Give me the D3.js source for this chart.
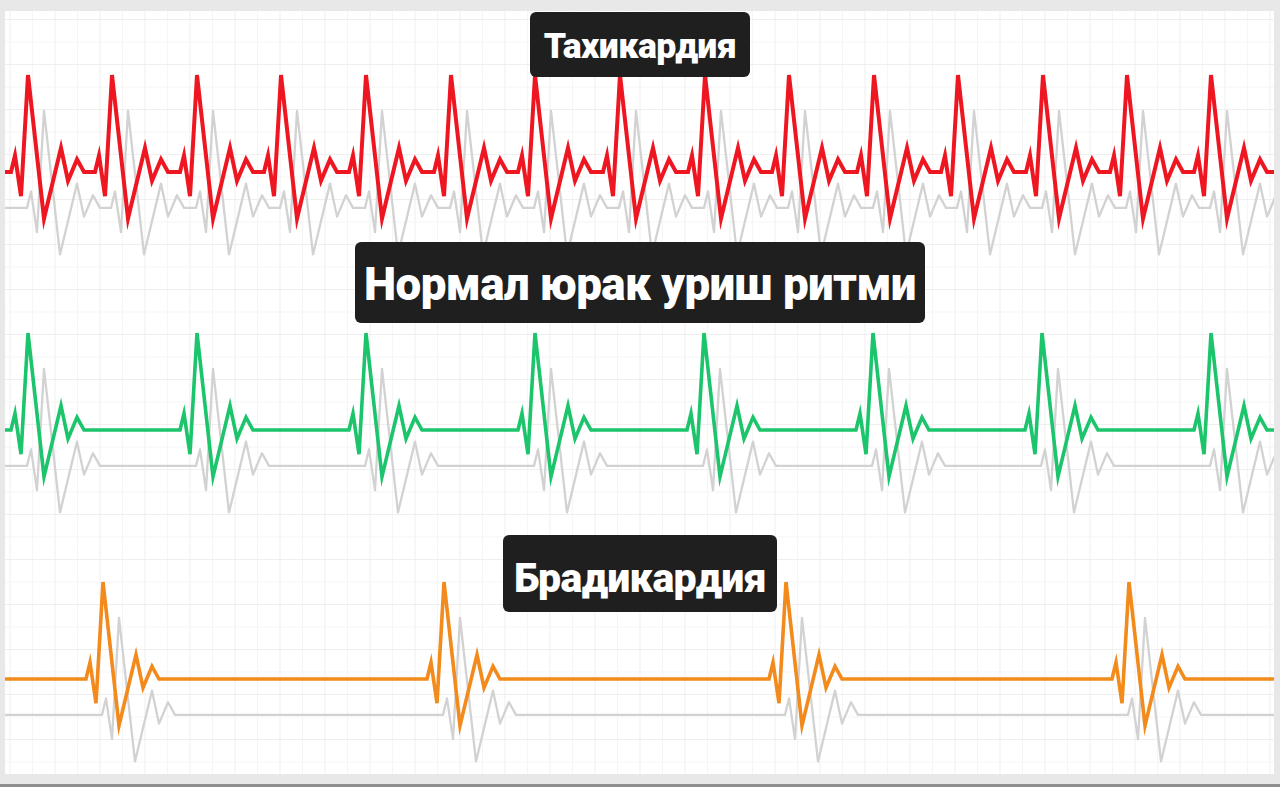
<!DOCTYPE html>
<html><head><meta charset="utf-8">
<script src="https://cdn.jsdelivr.net/npm/d3@7"></script>
<style>html,body{margin:0;padding:0;background:#e8e8e8;overflow:hidden}</style>
</head><body><svg id="c" width="1280" height="787"></svg>
<script>
// ---- data ----
// one heartbeat template: time offsets from the R peak and amplitudes (R peak = 1)
const beatOffsets    = [-17, -13, -7, 0, 16, 33, 40, 49, 56];
const beatAmplitudes = [0, 0.17, -0.25, 1.0, -0.48, 0.25, -0.09, 0.13, 0];
// R-peak times for each rhythm
const tachyPeaks  = [28, 112, 197, 281, 366, 451, 535, 620, 705, 789, 874, 958, 1043, 1127, 1211];
const normalPeaks = [28, 197, 366, 535, 704, 873, 1042, 1211];
const bradyPeaks  = [103, 444, 786, 1129];
const rhythmLabels = ["Тахикардия", "Нормал юрак уриш ритми", "Брадикардия"];
const echoDelay = 16;      // grey echo trace delay (time units)
const echoDrop  = -0.37;   // grey echo trace baseline shift (amplitude units)

// ---- layout ----
const W = 1280, H = 787;
const panel = {x0: 5, x1: 1274, y0: 11, y1: 774};
const svg = d3.select("#c");

svg.append("rect").attr("x",0).attr("y",0).attr("width",W).attr("height",H).attr("fill","#e8e8e8");
svg.append("rect").attr("x",panel.x0).attr("y",panel.y0)
  .attr("width",panel.x1-panel.x0).attr("height",panel.y1-panel.y0).attr("fill","#ffffff");
svg.append("rect").attr("x",0).attr("y",784).attr("width",W).attr("height",3).attr("fill","#8e8e8e");

svg.append("defs").append("clipPath").attr("id","pc").append("rect")
  .attr("x",panel.x0).attr("y",panel.y0).attr("width",panel.x1-panel.x0).attr("height",panel.y1-panel.y0);

const x = d3.scaleLinear().domain([0, 1280]).range([0, 1280]);

// grid
const grid = svg.append("g").attr("clip-path","url(#pc)");
const step = 22.5;
d3.range(10, panel.x1, step).forEach((gx,i) => {
  grid.append("line").attr("x1",gx).attr("x2",gx).attr("y1",panel.y0).attr("y2",panel.y1)
    .attr("stroke", i % 2 === 0 ? "#efefef" : "#f5f5f5").attr("stroke-width",1);
});
d3.range(19.5, panel.y1, step).forEach((gy,i) => {
  grid.append("line").attr("x1",panel.x0).attr("x2",panel.x1).attr("y1",gy).attr("y2",gy)
    .attr("stroke", i % 2 === 0 ? "#efefef" : "#f5f5f5").attr("stroke-width",1);
});

function trace(peaks, shift) {
  const pts = [[0, 0]];
  peaks.forEach(p => beatOffsets.forEach((d,i) => pts.push([p + shift + d, beatAmplitudes[i]])));
  pts.push([1290, 0]);
  return pts;
}

const rows = [
  {peaks: tachyPeaks,  base: 172, color: "#ee1620", width: 4},
  {peaks: normalPeaks, base: 430, color: "#1cc46c", width: 3.6},
  {peaks: bradyPeaks,  base: 679, color: "#f28a1c", width: 3.6}
];

const plot = svg.append("g").attr("clip-path","url(#pc)");
rows.forEach(r => {
  const y = d3.scaleLinear().domain([-1, 1]).range([r.base + 97, r.base - 97]);
  const line = d3.line().x(d => x(d[0])).y(d => y(d[1]));
  const echo = trace(r.peaks, echoDelay).map(d => [d[0], d[1] + echoDrop]);
  plot.append("path").attr("d", line(echo)).attr("fill","none")
    .attr("stroke","#d2d2d2").attr("stroke-width",2.3).attr("stroke-linejoin","round");
  plot.append("path").attr("d", line(trace(r.peaks, 0))).attr("fill","none")
    .attr("stroke", r.color).attr("stroke-width", r.width)
    .attr("stroke-linejoin","miter").attr("stroke-miterlimit",6);
});

// labels
const boxes = [
  {x0: 530, x1: 750, y0: 12,  y1: 77,  tw: 193, base: 58},
  {x0: 355, x1: 925, y0: 242, y1: 323, tw: 550, base: 300},
  {x0: 503, x1: 777, y0: 535, y1: 612, tw: 252, base: 592}
];
rhythmLabels.forEach((t,i) => {
  const b = boxes[i];
  const g = svg.append("g");
  g.append("rect").attr("x",b.x0).attr("y",b.y0).attr("width",b.x1-b.x0).attr("height",b.y1-b.y0)
    .attr("rx",6).attr("fill","#1f1f1f");
  const txt = g.append("text").text(t).attr("x",(b.x0+b.x1)/2).attr("y",b.base)
    .attr("text-anchor","middle").attr("fill","#ffffff")
    .style("font-family","Roboto, 'Noto Sans', sans-serif").style("font-weight","900")
    .style("letter-spacing","-0.6px")
    .style("font-size","40px");
  const w = txt.node().getComputedTextLength();
  txt.style("font-size", (40 * b.tw / w).toFixed(2) + "px");
});
</script></body></html>
